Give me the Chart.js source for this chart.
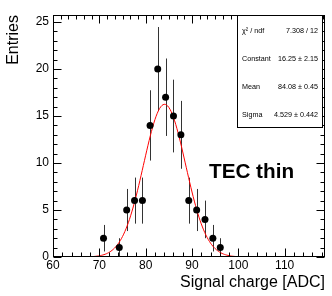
<!DOCTYPE html>
<html><head><meta charset="utf-8">
<script src="https://cdn.jsdelivr.net/npm/chart.js@4/dist/chart.umd.min.js"></script>
<style>html,body{margin:0;padding:0;background:#fff}#wrap{width:332px;height:296px}</style>
</head><body><div id="wrap"><canvas id="c" width="332" height="296"></canvas></div>
<script>
// ---- data ----
const binCenters = [70.9, 74.3, 75.9, 77.6, 79.3, 80.95, 82.6, 84.3, 86.0, 87.6, 89.3, 91.0, 92.8, 94.5, 96.1];
const entries    = [2, 1, 5, 6, 6, 14, 20, 17, 15, 13, 6, 5, 4, 2, 1];
const errors     = [1.41, 1.0, 2.24, 2.45, 2.45, 3.74, 4.47, 4.12, 3.87, 3.61, 2.45, 2.24, 2.0, 1.41, 1.0];
const xTicks = [60, 70, 80, 90, 100, 110];
const yTicks = [0, 5, 10, 15, 20, 25];
const fitConstant = 16.25, fitMean = 84.08, fitSigma = 4.529;
const statNames  = ['\u03C7\u00B2 / ndf', 'Constant', 'Mean', 'Sigma'];
const statValues = ['7.308 / 12', '16.25 \u00B1 2.15', '84.08 \u00B1 0.45', '4.529 \u00B1 0.442'];
const labelText = 'TEC thin';
const xTitle = 'Signal charge [ADC]';
const yTitle = 'Entries';
const xMin = 60, xMax = 118.7, yMin = 0, yMax = 25.75;

const FONT = "'Liberation Sans', Arial, Helvetica, sans-serif";

// fit function (Gaussian with parameters from stat box)
const fitX = [];
for (let x = xMin; x <= xMax + 1e-9; x += 0.25) fitX.push(x);
const fitPts = fitX.map(x => ({x, y: fitConstant * Math.exp(-0.5 * Math.pow((x - fitMean) / fitSigma, 2))}));
const points = binCenters.map((x, i) => ({x, y: entries[i]}));

const rootPlugin = {
  id: 'rootStyle',
  beforeDatasetsDraw(chart) {
    const {ctx, scales: {x, y}} = chart;
    ctx.save();
    ctx.strokeStyle = '#333';
    ctx.lineWidth = 1;
    binCenters.forEach((bx, i) => {
      const px = Math.round(x.getPixelForValue(bx)) + 0.5;
      ctx.beginPath();
      ctx.moveTo(px, y.getPixelForValue(entries[i] - errors[i]));
      ctx.lineTo(px, y.getPixelForValue(entries[i] + errors[i]));
      ctx.stroke();
    });
    ctx.restore();
  },
  afterDatasetsDraw(chart) {
    const {ctx, chartArea: a, scales: {x, y}} = chart;
    ctx.save();
    ctx.strokeStyle = '#000';
    ctx.lineWidth = 1;
    const L = a.left + 0.5, R = a.right - 0.5, T = a.top + 0.5, B = a.bottom - 0.5;
    ctx.strokeRect(L, T, R - L, B - T);
    ctx.beginPath();
    // y ticks (left and right)
    for (let v = yMin; v <= yMax; v += 1) {
      const py = Math.round(y.getPixelForValue(v)) + 0.5;
      const len = (v % 5 === 0) ? 8 : 4;
      ctx.moveTo(L, py); ctx.lineTo(L + len, py);
      ctx.moveTo(R, py); ctx.lineTo(R - len, py);
    }
    // x ticks bottom
    for (let v = xMin; v <= xMax; v += 2) {
      const px = Math.round(x.getPixelForValue(v)) + 0.5;
      const len = (Math.abs(v % 10) < 1e-6) ? 8 : 4;
      ctx.moveTo(px, B); ctx.lineTo(px, B - len);
    }
    // x ticks top
    for (let k = 0; xMin + k * 10 / 6 <= xMax; k++) {
      const v = xMin + k * 10 / 6;
      const px = Math.round(x.getPixelForValue(v)) + 0.5;
      const len = (k % 6 === 0) ? 8 : 4;
      ctx.moveTo(px, T); ctx.lineTo(px, T + len);
    }
    ctx.stroke();

    // stat box
    const bx0 = 237.5, by0 = 15.5, bx1 = 322.5, by1 = 127.5;
    ctx.fillStyle = '#fff';
    ctx.fillRect(bx0, by0, bx1 - bx0, by1 - by0);
    ctx.strokeRect(bx0, by0, bx1 - bx0, by1 - by0);
    ctx.fillStyle = '#000';
    ctx.font = '7.2px ' + FONT;
    ctx.textBaseline = 'middle';
    const rowY = [31, 59, 87, 115];
    statNames.forEach((n, i) => {
      ctx.textAlign = 'left';
      ctx.fillText(n, 242, rowY[i]);
      ctx.textAlign = 'right';
      ctx.fillText(statValues[i], 318, rowY[i]);
    });

    // label
    ctx.font = 'bold 20.7px ' + FONT;
    ctx.textAlign = 'left';
    ctx.textBaseline = 'middle';
    ctx.fillText(labelText, 209, 172);
    ctx.restore();
  }
};

new Chart(document.getElementById('c'), {
  type: 'scatter',
  data: {
    datasets: [
      {
        type: 'line', data: fitPts, borderColor: '#ff0000', borderWidth: 1,
        pointRadius: 0, tension: 0, fill: false, order: 2
      },
      {
        data: points, backgroundColor: '#000', borderColor: '#000',
        pointRadius: 3.5, pointHoverRadius: 3.5, borderWidth: 0, order: 1
      }
    ]
  },
  options: {
    responsive: false, animation: false, devicePixelRatio: 1,
    layout: {padding: {left: 0, right: 7, top: 15, bottom: 0}},
    plugins: {legend: {display: false}, tooltip: {enabled: false}},
    scales: {
      x: {
        type: 'linear', min: xMin, max: xMax,
        afterBuildTicks: s => { s.ticks = xTicks.map(v => ({value: v})); },
        afterFit: s => { s.height = 39; },
        grid: {display: false, drawTicks: false}, border: {display: false},
        ticks: {color: '#000', font: {family: FONT, size: 12}, padding: 1, maxRotation: 0, autoSkip: false},
        title: {display: true, text: xTitle, align: 'end', color: '#000', font: {family: FONT, size: 16}, padding: {top: 0, bottom: 3.4}}
      },
      y: {
        type: 'linear', min: yMin, max: yMax,
        afterBuildTicks: s => { s.ticks = yTicks.map(v => ({value: v})); },
        afterFit: s => { s.width = 53; },
        grid: {display: false, drawTicks: false}, border: {display: false},
        ticks: {color: '#000', font: {family: FONT, size: 12}, padding: 4, autoSkip: false},
        title: {display: true, text: yTitle, align: 'end', color: '#000', font: {family: FONT, size: 16}, padding: {top: 4.4, bottom: 0}}
      }
    }
  },
  plugins: [rootPlugin]
});
</script></body></html>
